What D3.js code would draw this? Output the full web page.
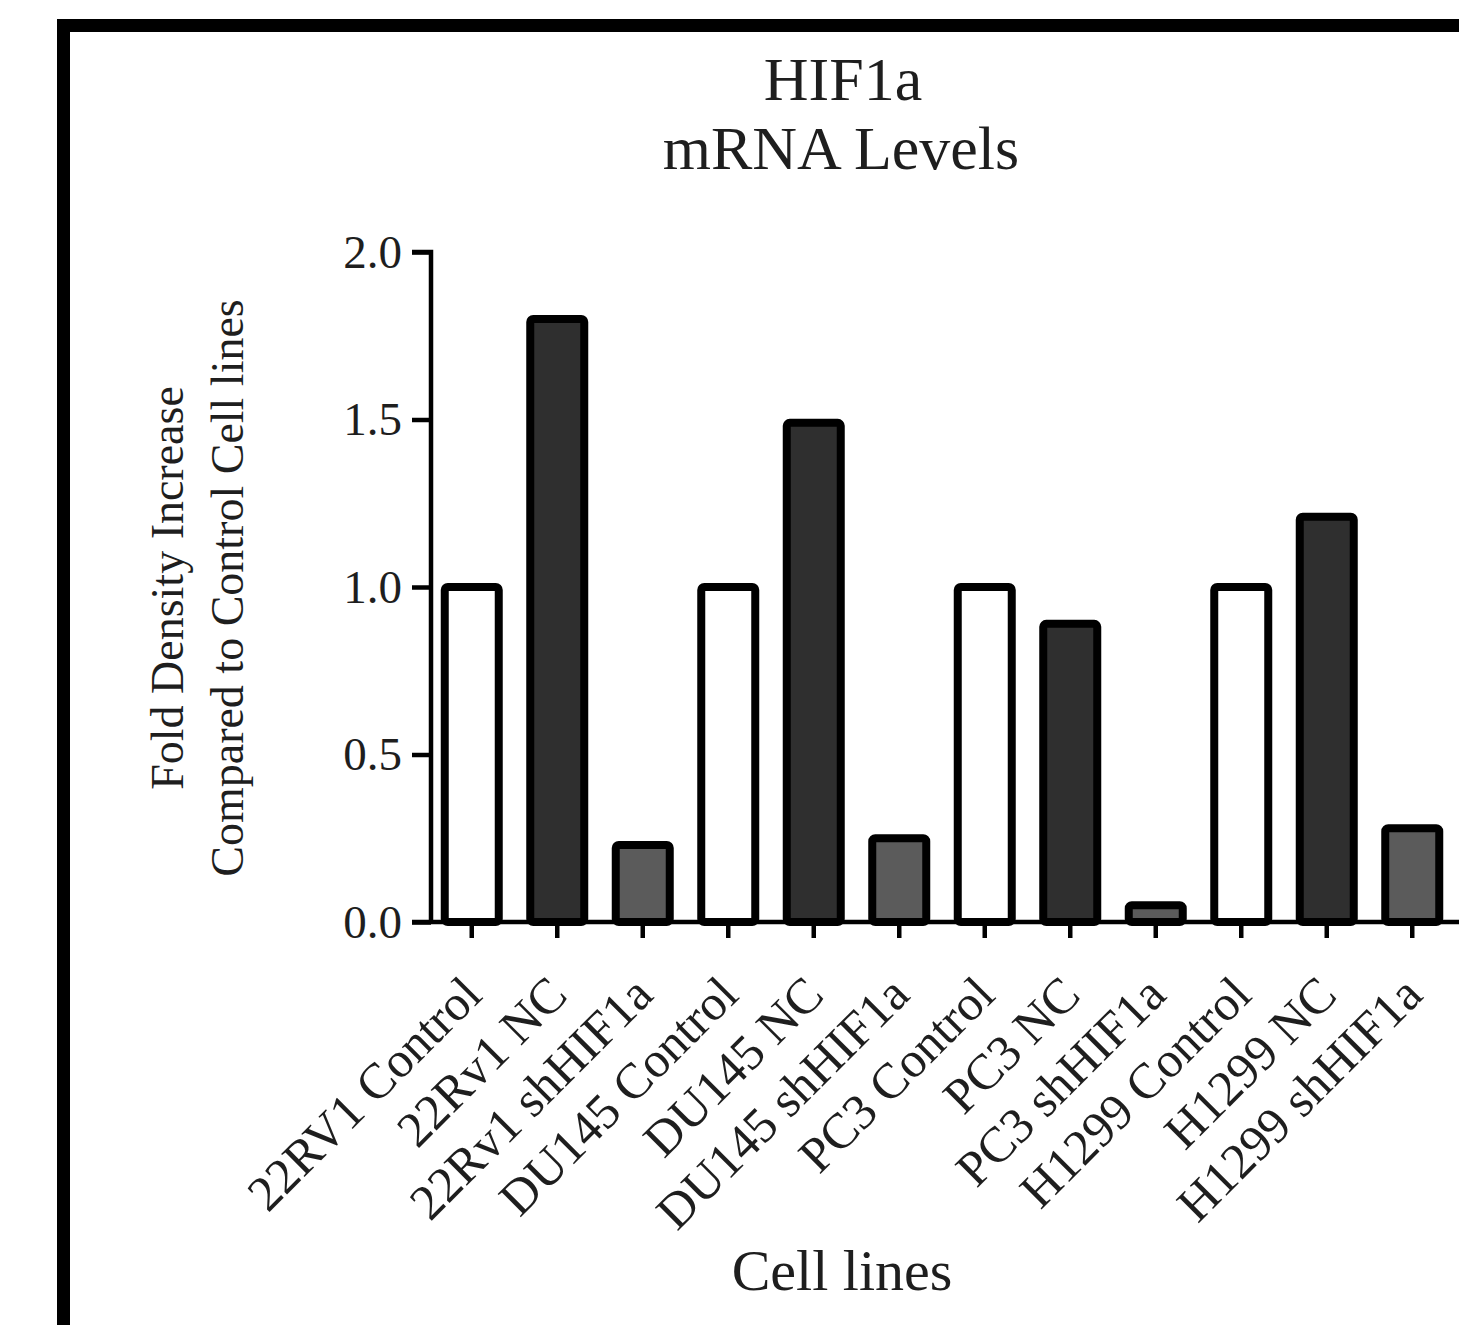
<!DOCTYPE html>
<html>
<head>
<meta charset="utf-8">
<script src="https://cdn.jsdelivr.net/npm/d3@7"></script>
<style>
  body { margin: 0; background: #fff; }
  svg { display: block; }
  text { font-family: "Liberation Serif", "Times New Roman", serif; fill: #1e1e1e; }
</style>
</head>
<body>
<svg width="1459" height="1325"></svg>
<script>
// data
var categories = ["22RV1 Control", "22Rv1 NC", "22Rv1 shHIF1a",
                  "DU145 Control", "DU145 NC", "DU145 shHIF1a",
                  "PC3 Control", "PC3 NC", "PC3 shHIF1a",
                  "H1299 Control", "H1299 NC", "H1299 shHIF1a"];
var values = [1.0, 1.80, 0.23, 1.0, 1.49, 0.25, 1.0, 0.89, 0.05, 1.0, 1.21, 0.28];
var groups = ["Control", "NC", "sh", "Control", "NC", "sh", "Control", "NC", "sh", "Control", "NC", "sh"];
var yTicks = [0, 0.5, 1.0, 1.5, 2.0];

var svg = d3.select("svg");

// outer frame (cut off at right/bottom like the original)
svg.append("rect")
  .attr("x", 63.5).attr("y", 25.5)
  .attr("width", 1500).attr("height", 1400)
  .attr("fill", "none")
  .attr("stroke", "#000")
  .attr("stroke-width", 13);

var x = d3.scaleBand()
  .domain(categories)
  .range([429, 1455])
  .padding(0);

var y = d3.scaleLinear()
  .domain([0, 2])
  .range([922, 252]);

var color = d3.scaleOrdinal()
  .domain(["Control", "NC", "sh"])
  .range(["#ffffff", "#2f2f2f", "#5b5b5b"]);

var barW = 54;

// bars
svg.append("g").selectAll("rect")
  .data(values)
  .join("rect")
    .attr("x", function(d, i) { return x(categories[i]) + x.bandwidth() / 2 - barW / 2; })
    .attr("y", function(d) { return y(d); })
    .attr("width", barW)
    .attr("height", function(d) { return y(0) - y(d); })
    .attr("rx", 3)
    .attr("fill", function(d, i) { return color(groups[i]); })
    .attr("stroke", "#000")
    .attr("stroke-width", 8);

// y axis
var yAxisG = svg.append("g")
  .attr("transform", "translate(431,0)")
  .call(d3.axisLeft(y).tickValues(yTicks).tickFormat(d3.format(".1f")).tickSize(19).tickPadding(10));
yAxisG.select(".domain")
  .attr("d", "M-19," + y(2) + "H0V" + y(0))
  .attr("stroke-width", 4.5);
yAxisG.selectAll(".tick line").attr("stroke-width", 4.5);
yAxisG.selectAll(".tick text")
  .attr("font-family", "Liberation Serif")
  .attr("font-size", 47)
  .attr("fill", "#222");

// x axis
var xAxisG = svg.append("g")
  .attr("transform", "translate(0," + y(0) + ")")
  .call(d3.axisBottom(x).tickSize(16).tickFormat(""));
xAxisG.select(".domain")
  .attr("d", "M412,0H1470")
  .attr("stroke-width", 4.5);
xAxisG.selectAll(".tick line").attr("stroke-width", 4.5);

// rotated category labels
svg.append("g").selectAll("text")
  .data(categories)
  .join("text")
    .attr("transform", function(d) {
      return "translate(" + (x(d) + x.bandwidth() / 2) + ",985) rotate(-45)";
    })
    .attr("text-anchor", "end")
    .attr("dy", "0.35em")
    .attr("font-size", 50)
    .text(function(d) { return d; });

// title
svg.append("text")
  .attr("x", 843).attr("y", 100)
  .attr("text-anchor", "middle")
  .attr("font-size", 62)
  .text("HIF1a");
svg.append("text")
  .attr("x", 841).attr("y", 169)
  .attr("text-anchor", "middle")
  .attr("font-size", 62)
  .text("mRNA Levels");

// y axis title (two lines)
var yTitle = svg.append("text")
  .attr("transform", "translate(183,588) rotate(-90)")
  .attr("text-anchor", "middle")
  .attr("font-size", 46)
  .attr("fill", "#2a2a2a");
yTitle.append("tspan").attr("x", 0).attr("dy", 0).text("Fold Density Increase");
yTitle.append("tspan").attr("x", 0).attr("dy", 60).text("Compared to Control Cell lines");

// x axis title
svg.append("text")
  .attr("x", 842).attr("y", 1290)
  .attr("text-anchor", "middle")
  .attr("font-size", 58)
  .text("Cell lines");
</script>
</body>
</html>
